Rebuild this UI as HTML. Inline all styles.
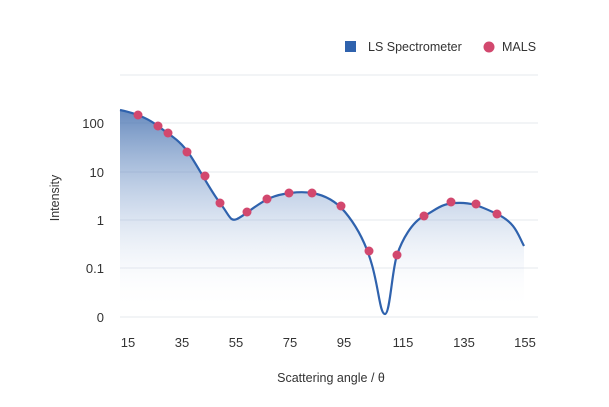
<!DOCTYPE html><html><head><style>body{margin:0;background:#fff}svg{display:block;font-family:"Liberation Sans",sans-serif}</style></head><body>
<svg width="609" height="407" viewBox="0 0 609 407">
<defs><linearGradient id="g" gradientUnits="userSpaceOnUse" x1="0" y1="105" x2="0" y2="310"><stop offset="0" stop-color="#3a68aa" stop-opacity="0.8"/><stop offset="0.5" stop-color="#7b9ccc" stop-opacity="0.35"/><stop offset="1" stop-color="#ffffff" stop-opacity="0"/></linearGradient></defs>
<g stroke="#e6e8ee" stroke-width="1">
<line x1="120" y1="75" x2="538" y2="75"/><line x1="120" y1="123" x2="538" y2="123"/><line x1="120" y1="172" x2="538" y2="172"/><line x1="120" y1="220" x2="538" y2="220"/><line x1="120" y1="268" x2="538" y2="268"/><line x1="120" y1="317" x2="538" y2="317"/></g>
<path d="M120,110 C130,112 145,116 158,126 S180,140 190,155 S210,190 220,203 S230,222 237,219 S258,203 270,198 S300,191 312,193 S335,200 345,212 S365,240 372,265 S380,314 385,314 S392,270 397,255 S412,222 424,216 S440,204 455,203 S478,205 497,214 S518,235 524,246 L524,310 L120,310Z" fill="url(#g)"/>
<path d="M120,110 C130,112 145,116 158,126 S180,140 190,155 S210,190 220,203 S230,222 237,219 S258,203 270,198 S300,191 312,193 S335,200 345,212 S365,240 372,265 S380,314 385,314 S392,270 397,255 S412,222 424,216 S440,204 455,203 S478,205 497,214 S518,235 524,246" fill="none" stroke="#2f62ad" stroke-width="2.2"/>
<g fill="#d2486e">
<circle cx="138" cy="115" r="4.5"/><circle cx="158" cy="126" r="4.5"/><circle cx="168" cy="133" r="4.5"/><circle cx="187" cy="152" r="4.5"/><circle cx="205" cy="176" r="4.5"/><circle cx="220" cy="203" r="4.5"/><circle cx="247" cy="212" r="4.5"/><circle cx="267" cy="199" r="4.5"/><circle cx="289" cy="193" r="4.5"/><circle cx="312" cy="193" r="4.5"/><circle cx="341" cy="206" r="4.5"/><circle cx="369" cy="251" r="4.5"/><circle cx="397" cy="255" r="4.5"/><circle cx="424" cy="216" r="4.5"/><circle cx="451" cy="202" r="4.5"/><circle cx="476" cy="204" r="4.5"/><circle cx="497" cy="214" r="4.5"/></g>
<g font-size="13" fill="#333" text-anchor="end">
<text x="104" y="128">100</text><text x="104" y="177">10</text><text x="104" y="225">1</text><text x="104" y="273">0.1</text><text x="104" y="322">0</text></g>
<g font-size="13" fill="#333" text-anchor="middle">
<text x="128" y="347">15</text><text x="182" y="347">35</text><text x="236" y="347">55</text><text x="290" y="347">75</text><text x="344" y="347">95</text><text x="403" y="347">115</text><text x="464" y="347">135</text><text x="525" y="347">155</text>
<text x="331" y="382" font-size="12.5">Scattering angle / θ</text>
<text transform="translate(59,198) rotate(-90)" font-size="12.5">Intensity</text></g>
<rect x="345" y="41" width="11" height="11" fill="#2f62ad"/>
<text x="368" y="51" font-size="12.5" fill="#333">LS Spectrometer</text>
<circle cx="489" cy="47" r="5.5" fill="#d2486e"/>
<text x="502" y="51" font-size="12.5" fill="#333">MALS</text>
</svg></body></html>
